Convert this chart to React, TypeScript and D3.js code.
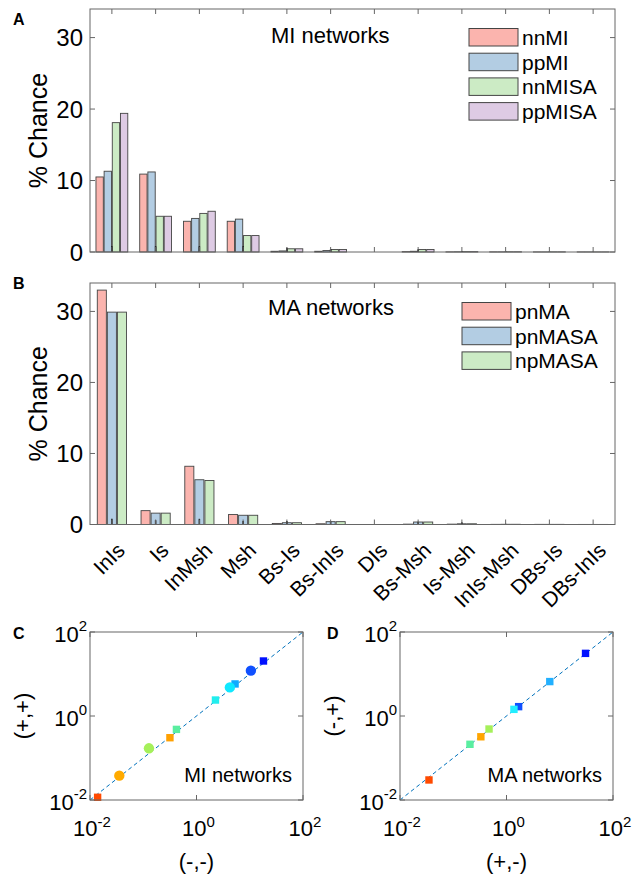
import React from 'react';
import * as d3 from 'd3';

// category labels shared by panels A and B
const categories = ['InIs', 'Is', 'InMsh', 'Msh', 'Bs-Is', 'Bs-InIs', 'DIs', 'Bs-Msh', 'Is-Msh', 'InIs-Msh', 'DBs-Is', 'DBs-InIs'];
const yTicks = [0, 10, 20, 30];

// panel A - MI networks
const miNames = ['nnMI', 'ppMI', 'nnMISA', 'ppMISA'];
const nnMI = [10.5, 10.9, 4.3, 4.3, 0.1, 0.1, 0, 0.05, 0.02, 0.02, 0.01, 0.01];
const ppMI = [11.3, 11.2, 4.7, 4.6, 0.15, 0.2, 0, 0.1, 0.03, 0.02, 0.01, 0.01];
const nnMISA = [18.1, 5.0, 5.4, 2.3, 0.45, 0.35, 0, 0.35, 0.05, 0.03, 0.02, 0.01];
const ppMISA = [19.4, 5.0, 5.7, 2.3, 0.45, 0.35, 0, 0.35, 0.05, 0.03, 0.02, 0.01];
const miErr = [0.8, 0.8, 0.8, 0.8, 0.6, 0.4, 0, 0.4, 0.15, 0.1, 0.05, 0.05];

// panel B - MA networks
const maNames = ['pnMA', 'pnMASA', 'npMASA'];
const pnMA = [33.0, 1.95, 8.2, 1.4, 0.15, 0.1, 0, 0.05, 0.05, 0.02, 0.02, 0.01];
const pnMASA = [29.9, 1.6, 6.3, 1.3, 0.25, 0.4, 0, 0.35, 0.1, 0.03, 0.02, 0.01];
const npMASA = [29.9, 1.6, 6.2, 1.3, 0.25, 0.4, 0, 0.35, 0.1, 0.03, 0.02, 0.01];
const maErr = [0.8, 0.6, 0.8, 0.5, 0.5, 0.4, 0, 0.4, 0.3, 0.1, 0.05, 0.05];

const pastel = ['#fbb4ae', '#b3cde3', '#ccebc5', '#decbe4'];

// panel C - (-,-) vs (+,+)
const cX = [0.0139, 0.0355, 0.128, 0.317, 0.42, 2.27, 5.3, 4.23, 10.5, 18.1];
const cY = [0.0116, 0.038, 0.17, 0.304, 0.48, 2.4, 5.8, 4.8, 12, 20.4];
const cShape = ['s', 'o', 'o', 's', 's', 's', 's', 'o', 'o', 's'];
const cColor = ['#ff4a00', '#ffaa00', '#a5f05a', '#ffa000', '#5aeea0', '#22eeee', '#10aaff', '#10e8ff', '#1050ff', '#0010ff'];

// panel D - (+,-) vs (-,+)
const dX = [0.035, 0.206, 0.33, 0.47, 1.69, 1.38, 6.5, 30.5];
const dY = [0.03, 0.212, 0.32, 0.49, 1.67, 1.44, 6.6, 31];
const dColor = ['#ff4a00', '#5aeea0', '#ffa500', '#a5f05a', '#1050ff', '#22eeff', '#22b0ff', '#0010ff'];

const FONT = 'Liberation Sans, Arial, Helvetica, sans-serif';
const AX = '#666';

function BarPanel(props: any) {
  const { top, bottom, names, series, errs, title, titleX, titleY, legX, legY, letter, letterY, labels } = props;
  const left = 90, right = 615;
  const x = d3.scaleLinear().domain([0.5, 12.5]).range([left, right]);
  const y = d3.scaleLinear().domain([0, 34]).range([bottom, top]);
  const n = names.length;
  const gw = (x(2) - x(1)) * Math.min(0.8, n / (n + 1.5));
  const inner = d3.scaleBand().domain(names).range([-gw / 2, gw / 2]).paddingInner(0.1);

  return (
    <g>
      <text x={13} y={letterY} fontSize={16} fontWeight="bold">{letter}</text>
      {series.map((vals: number[], s: number) =>
        vals.map((v, i) => (
          <rect key={s + '-' + i}
            x={x(i + 1) + (inner(names[s]) as number)}
            y={y(v)}
            width={inner.bandwidth()}
            height={y(0) - y(v)}
            fill={pastel[s]} stroke="#444" strokeWidth={0.9} />
        ))
      )}
      {errs.map((e: number, i: number) => e > 0 ? (
        <line key={'e' + i} x1={x(i + 1)} x2={x(i + 1)} y1={y(0)} y2={y(e)} stroke="#111" strokeWidth={1.5} />
      ) : null)}
      <rect x={left} y={top} width={right - left} height={bottom - top} fill="none" stroke={AX} strokeWidth={1} />
      {categories.map((c, i) => (
        <g key={c}>
          <line x1={x(i + 1)} x2={x(i + 1)} y1={bottom} y2={bottom - 5} stroke={AX} />
          <line x1={x(i + 1)} x2={x(i + 1)} y1={top} y2={top + 5} stroke={AX} />
          {labels ? (
            <text transform={`translate(${x(i + 1) + 9},${bottom + 22}) rotate(-45)`}
              textAnchor="end" dominantBaseline="central" fontSize={21}>{c}</text>
          ) : null}
        </g>
      ))}
      {yTicks.map(t => (
        <g key={t}>
          <line x1={left} x2={left + 5} y1={y(t)} y2={y(t)} stroke={AX} />
          <line x1={right} x2={right - 5} y1={y(t)} y2={y(t)} stroke={AX} />
          <text x={83} y={y(t)} textAnchor="end" dominantBaseline="central" fontSize={24}>{t}</text>
        </g>
      ))}
      <text transform={`translate(38,${(top + bottom) / 2}) rotate(-90)`} textAnchor="middle" dominantBaseline="central" fontSize={25}>% Chance</text>
      <text x={titleX} y={titleY} fontSize={22}>{title}</text>
      {names.map((nm: string, s: number) => (
        <g key={nm}>
          <rect x={legX} y={legY + s * 24.7} width={49} height={17.5} fill={pastel[s]} stroke="#444" strokeWidth={1} />
          <text x={legX + 53} y={legY + s * 24.7 + 9} dominantBaseline="central" fontSize={21}>{nm}</text>
        </g>
      ))}
    </g>
  );
}

function Pow({ x, y, exp, anchor, central }: any) {
  return (
    <text x={x} y={y} textAnchor={anchor} dominantBaseline={central ? 'central' : 'auto'} fontSize={22}>
      10<tspan dy={-9} fontSize={15}>{exp}</tspan>
    </text>
  );
}

function ScatterPanel(props: any) {
  const { left, xs, ys, shapes, colors, letter, letterX, xLabel, yLabel, note } = props;
  const right = left + 213, top = 632, bottom = 800;
  const x = d3.scaleLog().domain([0.01, 100]).range([left, right]);
  const y = d3.scaleLog().domain([0.01, 100]).range([bottom, top]);
  const tv = [0.01, 1, 100];
  const ex = ['-2', '0', '2'];
  return (
    <g>
      <text x={letterX} y={639} fontSize={16} fontWeight="bold">{letter}</text>
      <line x1={x(0.01)} y1={y(0.01)} x2={x(100)} y2={y(100)} stroke="#0072bd" strokeWidth={1} strokeDasharray="4,3" />
      {xs.map((v: number, i: number) => shapes[i] === 'o' ? (
        <circle key={i} cx={x(v)} cy={y(ys[i])} r={5.2} fill={colors[i]} />
      ) : (
        <rect key={i} x={x(v) - 3.7} y={y(ys[i]) - 3.7} width={7.4} height={7.4} fill={colors[i]} />
      ))}
      <rect x={left} y={top} width={right - left} height={bottom - top} fill="none" stroke={AX} strokeWidth={1} />
      {tv.map((t, i) => (
        <g key={t}>
          <line x1={x(t)} x2={x(t)} y1={bottom} y2={bottom - 5} stroke={AX} />
          <line x1={x(t)} x2={x(t)} y1={top} y2={top + 5} stroke={AX} />
          <line x1={left} x2={left + 5} y1={y(t)} y2={y(t)} stroke={AX} />
          <line x1={right} x2={right - 5} y1={y(t)} y2={y(t)} stroke={AX} />
          <Pow x={x(t) + 2} y={836} exp={ex[i]} anchor="middle" />
          <Pow x={left - 3} y={y(t) + 2} exp={ex[i]} anchor="end" central />
        </g>
      ))}
      <text x={(left + right) / 2} y={869} textAnchor="middle" fontSize={22}>{xLabel}</text>
      <text transform={`translate(${left - 68},${(top + bottom) / 2}) rotate(-90)`} textAnchor="middle" dominantBaseline="central" fontSize={22}>{yLabel}</text>
      <text x={right - 11} y={782} textAnchor="end" fontSize={20}>{note}</text>
    </g>
  );
}

export default function App() {
  return (
    <div style={{ position: 'absolute', left: 0, top: 0 }}>
      <svg width={633} height={874} style={{ display: 'block', fontFamily: FONT }}>
        <rect width={633} height={874} fill="#fff" />
        <BarPanel top={9} bottom={252} names={miNames} series={[nnMI, ppMI, nnMISA, ppMISA]} errs={miErr}
          title="MI networks" titleX={271} titleY={43} legX={469} legY={28.5} letter="A" letterY={25} labels={false} />
        <BarPanel top={283} bottom={524.5} names={maNames} series={[pnMA, pnMASA, npMASA]} errs={maErr}
          title="MA networks" titleX={268} titleY={315} legX={462} legY={302.5} letter="B" letterY={289} labels={true} />
        <ScatterPanel left={90} xs={cX} ys={cY} shapes={cShape} colors={cColor} letter="C" letterX={13}
          xLabel="(-,-)" yLabel="(+,+)" note="MI networks" />
        <ScatterPanel left={400} xs={dX} ys={dY} shapes={dX.map(() => 's')} colors={dColor} letter="D" letterX={327}
          xLabel="(+,-)" yLabel="(-,+)" note="MA networks" />
      </svg>
    </div>
  );
}
